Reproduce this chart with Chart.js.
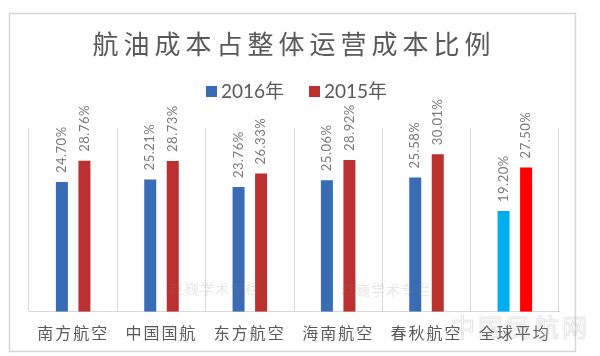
<!DOCTYPE html>
<html><head><meta charset="utf-8">
<script src="https://cdn.jsdelivr.net/npm/chart.js@4.4.1/dist/chart.umd.min.js"></script>
<style>html,body{margin:0;padding:0;background:#fff;}canvas{display:block;}</style>
</head><body>
<canvas id="c" width="600" height="356"></canvas>
<script>
const categories = ['南方航空','中国国航','东方航空','海南航空','春秋航空','全球平均'];
const series2016 = [24.70, 25.21, 23.76, 25.06, 25.58, 19.20];
const series2015 = [28.76, 28.73, 26.33, 28.92, 30.01, 27.50];
const seriesNames = ['2016年', '2015年'];
const chartTitle = '航油成本占整体运营成本比例';
const watermarkText = '赵巍学术专栏';
const watermarkText2 = '中国民航网';

const BLUE = '#3a6cb5', RED = '#bb3131', CYAN = '#00aeef', BRIGHT_RED = '#ff0000';
const TEXT = '#595959';
const FONT_CJK = '"Noto Sans CJK SC", sans-serif';
const FONT_NUM = 'Lato, "Noto Sans CJK SC", sans-serif';

const colors2016 = categories.map((c, i) => i === categories.length - 1 ? CYAN : BLUE);
const colors2015 = categories.map((c, i) => i === categories.length - 1 ? BRIGHT_RED : RED);

const decorPlugin = {
  id: 'decor',
  beforeDraw(chart) {
    const ctx = chart.ctx;
    ctx.save();
    ctx.fillStyle = '#fff';
    ctx.fillRect(0, 0, chart.width, chart.height);
    // frame
    ctx.strokeStyle = '#d6d6d6';
    ctx.lineWidth = 1.5;
    ctx.strokeRect(9.5, 13.5, 566, 338);
    // title
    ctx.fillStyle = TEXT;
    ctx.font = '26px ' + FONT_CJK;
    ctx.letterSpacing = '5px';
    ctx.textAlign = 'center';
    ctx.textBaseline = 'middle';
    ctx.fillText(chartTitle, 294, 44);
    // legend
    ctx.letterSpacing = '0px';
    ctx.font = '19px ' + FONT_NUM;
    ctx.textAlign = 'left';
    const items = [[BLUE, seriesNames[0], 206], [RED, seriesNames[1], 309]];
    items.forEach(([col, txt, x]) => {
      ctx.fillStyle = col;
      ctx.fillRect(x, 86, 11, 11);
      ctx.fillStyle = TEXT;
      ctx.fillText(txt, x + 15, 92);
    });
    ctx.restore();
    ctx.letterSpacing = '2px';
  },
  afterDatasetsDraw(chart) {
    const ctx = chart.ctx;
    ctx.save();
    ctx.letterSpacing = '0.5px';
    ctx.font = '13px ' + FONT_NUM;
    ctx.fillStyle = '#7a7a7a';
    ctx.textAlign = 'left';
    ctx.textBaseline = 'middle';
    chart.data.datasets.forEach((ds, di) => {
      const meta = chart.getDatasetMeta(di);
      meta.data.forEach((el, i) => {
        ctx.save();
        ctx.translate(el.x, el.y - 9);
        ctx.rotate(-Math.PI / 2);
        ctx.fillText(ds.data[i].toFixed(2) + '%', 0, 0);
        ctx.restore();
      });
    });
    // watermarks
    ctx.letterSpacing = '1px';
    ctx.font = '14px ' + FONT_CJK;
    ctx.fillStyle = 'rgba(120,120,120,0.18)';
    ctx.textAlign = 'center';
    ctx.fillText(watermarkText, 215, 289);
    ctx.fillText(watermarkText, 386, 290);
    ctx.restore();
  },
  afterDraw(chart) {
    const ctx = chart.ctx;
    ctx.save();
    ctx.letterSpacing = '3px';
    ctx.font = '25px ' + FONT_CJK;
    ctx.strokeStyle = 'rgba(170,170,170,0.3)';
    ctx.lineWidth = 1;
    ctx.textAlign = 'left';
    ctx.textBaseline = 'middle';
    ctx.strokeText(watermarkText2, 450, 327);
    ctx.restore();
    ctx.letterSpacing = '0px';
  }
};

new Chart(document.getElementById('c'), {
  type: 'bar',
  data: {
    labels: categories,
    datasets: [
      { label: seriesNames[0], data: series2016, backgroundColor: colors2016 },
      { label: seriesNames[1], data: series2015, backgroundColor: colors2015 }
    ]
  },
  options: {
    responsive: false,
    animation: false,
    devicePixelRatio: 1,
    categoryPercentage: 0.51,
    barPercentage: 0.533,
    layout: { padding: { left: 29, right: 41, top: 128, bottom: 1 } },
    plugins: { legend: { display: false }, title: { display: false }, tooltip: { enabled: false } },
    scales: {
      x: {
        grid: { display: true, color: '#d9d9d9', drawTicks: false, offset: true },
        border: { color: '#d9d9d9' },
        ticks: { color: TEXT, padding: 12, font: { family: FONT_CJK, size: 16 } }
      },
      y: { display: false, min: 0, max: 35 }
    }
  },
  plugins: [decorPlugin]
});
</script>
</body></html>
